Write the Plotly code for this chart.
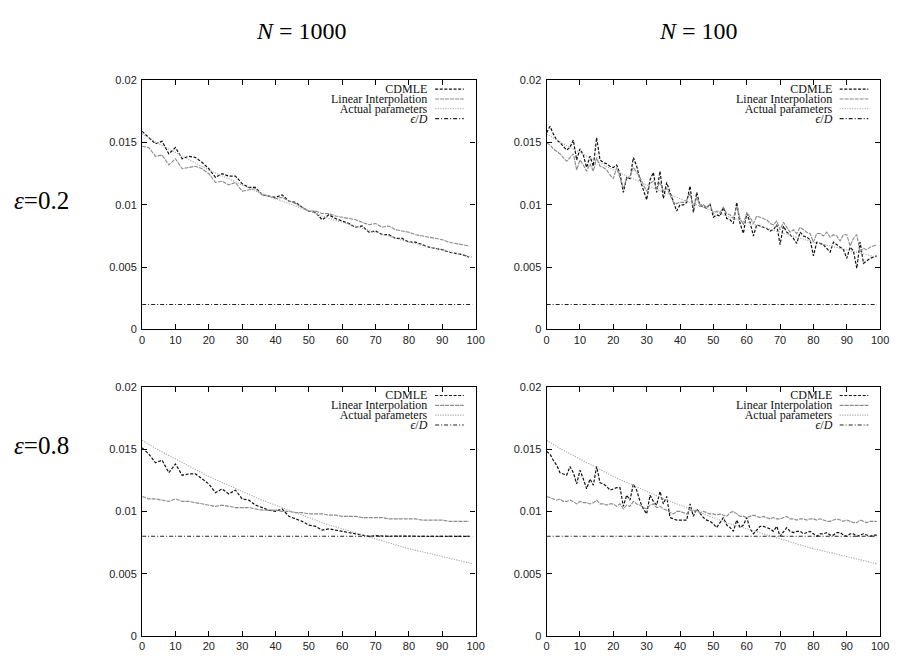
import plotly.graph_objects as go

W, H = 898, 662

# ---------------- data ----------------
x_full = list(range(100))
x_even = list(range(0, 100, 2))
x_actual = [0, 5, 10, 15, 20, 25, 30, 35, 40, 45, 50, 55, 60, 65, 70, 75, 80, 85, 90, 95, 99]

actual_params = [0.0157, 0.0149, 0.0142, 0.0135, 0.0128, 0.0122, 0.0116, 0.0110, 0.0105, 0.0100,
                 0.0095, 0.0090, 0.0086, 0.0082, 0.0078, 0.0074, 0.0070, 0.0067, 0.0064, 0.0061, 0.0058]

eps_D_02 = [0.002] * 100
eps_D_08 = [0.008] * 100

# eps=0.2, N=1000 (even x)
cdmle_02_1000 = [0.0159, 0.0154, 0.0149, 0.0151, 0.0141, 0.0146, 0.0137, 0.0139, 0.0138, 0.0134,
                 0.0129, 0.0122, 0.0125, 0.0123, 0.0123, 0.0117, 0.0114, 0.0114, 0.0108, 0.0107,
                 0.0106, 0.0108, 0.0103, 0.0102, 0.0098, 0.0095, 0.0094, 0.0088, 0.0092, 0.0089,
                 0.0087, 0.0085, 0.0082, 0.0083, 0.0078, 0.0079, 0.0076, 0.0076, 0.0073, 0.0073,
                 0.0070, 0.0070, 0.0068, 0.0066, 0.0065, 0.0064, 0.0062, 0.0061, 0.0060, 0.0058]
linint_02_1000 = [0.0147, 0.0146, 0.0139, 0.0140, 0.0132, 0.0137, 0.0129, 0.0130, 0.0131, 0.0129,
                  0.0125, 0.0118, 0.0119, 0.0116, 0.0118, 0.0111, 0.0112, 0.0113, 0.0108, 0.0107,
                  0.0105, 0.0106, 0.0103, 0.0101, 0.0098, 0.0095, 0.0095, 0.0093, 0.0093, 0.0091,
                  0.0090, 0.0089, 0.0088, 0.0086, 0.0084, 0.0085, 0.0082, 0.0083, 0.0080, 0.0079,
                  0.0078, 0.0076, 0.0075, 0.0074, 0.0073, 0.0072, 0.0070, 0.0069, 0.0068, 0.0067]

# eps=0.2, N=100 (every x)
cdmle_02_100 = [0.0158, 0.0163, 0.0157, 0.0152, 0.0150, 0.0147, 0.0144, 0.0146, 0.0152, 0.0136,
                0.0145, 0.0140, 0.0130, 0.0139, 0.0131, 0.0154, 0.0136, 0.0134, 0.0133, 0.0131,
                0.0130, 0.0132, 0.0125, 0.0110, 0.0122, 0.0121, 0.0138, 0.0131, 0.0120, 0.0112,
                0.0104, 0.0120, 0.0126, 0.0110, 0.0127, 0.0105, 0.0118, 0.0110, 0.0103, 0.0095,
                0.0100, 0.0100, 0.0102, 0.0115, 0.0094, 0.0110, 0.0099, 0.0099, 0.0097, 0.0101,
                0.0090, 0.0092, 0.0091, 0.0098, 0.0089, 0.0088, 0.0085, 0.0102, 0.0085, 0.0077,
                0.0093, 0.0086, 0.0075, 0.0084, 0.0083, 0.0082, 0.0081, 0.0079, 0.0080, 0.0084,
                0.0068, 0.0083, 0.0078, 0.0076, 0.0073, 0.0069, 0.0078, 0.0075, 0.0074, 0.0072,
                0.0059, 0.0070, 0.0069, 0.0068, 0.0065, 0.0062, 0.0070, 0.0068, 0.0066, 0.0064,
                0.0057, 0.0066, 0.0063, 0.0049, 0.0070, 0.0053, 0.0055, 0.0057, 0.0058, 0.0059]
linint_02_100 = [0.0150, 0.0148, 0.0145, 0.0143, 0.0141, 0.0138, 0.0135, 0.0138, 0.0141, 0.0128,
                 0.0136, 0.0132, 0.0127, 0.0133, 0.0127, 0.0138, 0.0131, 0.0130, 0.0128, 0.0124,
                 0.0121, 0.0130, 0.0122, 0.0113, 0.0121, 0.0123, 0.0130, 0.0126, 0.0122, 0.0116,
                 0.0111, 0.0117, 0.0119, 0.0113, 0.0118, 0.0111, 0.0113, 0.0108, 0.0102, 0.0101,
                 0.0102, 0.0102, 0.0104, 0.0109, 0.0098, 0.0106, 0.0100, 0.0100, 0.0098, 0.0100,
                 0.0093, 0.0095, 0.0094, 0.0098, 0.0093, 0.0092, 0.0089, 0.0099, 0.0089, 0.0084,
                 0.0094, 0.0090, 0.0085, 0.0091, 0.0090, 0.0089, 0.0088, 0.0085, 0.0084, 0.0087,
                 0.0080, 0.0086, 0.0082, 0.0078, 0.0080, 0.0077, 0.0082, 0.0080, 0.0078, 0.0077,
                 0.0070, 0.0077, 0.0077, 0.0075, 0.0078, 0.0074, 0.0076, 0.0075, 0.0071, 0.0076,
                 0.0076, 0.0067, 0.0073, 0.0076, 0.0062, 0.0065, 0.0064, 0.0066, 0.0067, 0.0068]

# eps=0.8, N=1000 (even x)
cdmle_08_1000 = [0.0151, 0.0146, 0.0139, 0.0141, 0.0131, 0.0138, 0.0129, 0.0130, 0.0130, 0.0126,
                 0.0122, 0.0115, 0.0118, 0.0114, 0.0117, 0.0110, 0.0109, 0.0105, 0.0103, 0.0101,
                 0.0100, 0.0102, 0.0096, 0.0094, 0.0092, 0.0089, 0.0088, 0.0085, 0.0086, 0.0085,
                 0.0084, 0.0083, 0.0082, 0.0081, 0.0080, 0.00805, 0.0080, 0.0080, 0.00802, 0.0080,
                 0.0080, 0.00801, 0.0080, 0.0080, 0.00801, 0.0080, 0.0080, 0.0080, 0.0080, 0.0080]
linint_08_1000 = [0.0112, 0.0110, 0.0110, 0.0109, 0.0108, 0.0110, 0.0108, 0.0108, 0.0107, 0.0106,
                  0.0105, 0.0104, 0.0105, 0.0104, 0.0103, 0.0103, 0.0103, 0.0102, 0.0101, 0.0101,
                  0.0101, 0.0100, 0.0100, 0.0099, 0.0099, 0.0098, 0.0098, 0.0098, 0.0097, 0.0097,
                  0.0096, 0.0096, 0.0096, 0.0095, 0.0095, 0.0095, 0.0095, 0.0094, 0.0094, 0.0094,
                  0.0094, 0.0094, 0.0093, 0.0093, 0.0093, 0.0093, 0.0092, 0.0092, 0.0092, 0.0092]

# eps=0.8, N=100 (every x)
cdmle_08_100 = [0.0148, 0.0146, 0.0141, 0.0137, 0.0131, 0.0130, 0.0129, 0.0136, 0.0131, 0.0122,
                0.0133, 0.0126, 0.0118, 0.0126, 0.0121, 0.0136, 0.0123, 0.0122, 0.0120, 0.0117,
                0.0118, 0.0119, 0.0119, 0.0104, 0.0113, 0.0109, 0.0122, 0.0117, 0.0108, 0.0102,
                0.0098, 0.0113, 0.0108, 0.0105, 0.0116, 0.0106, 0.0112, 0.0095, 0.0094, 0.0093,
                0.0093, 0.0093, 0.0093, 0.0106, 0.0096, 0.0102, 0.0098, 0.0095, 0.0093, 0.0092,
                0.0090, 0.0087, 0.0091, 0.0095, 0.0089, 0.0087, 0.0084, 0.0093, 0.0087, 0.0089,
                0.0095, 0.0086, 0.0082, 0.0085, 0.0088, 0.0088, 0.0087, 0.0086, 0.0084, 0.0088,
                0.0080, 0.0084, 0.0087, 0.0084, 0.0083, 0.0084, 0.0084, 0.0082, 0.0083, 0.0084,
                0.0082, 0.0080, 0.0082, 0.0082, 0.0083, 0.0081, 0.0081, 0.0083, 0.0083, 0.0081,
                0.0080, 0.0082, 0.0082, 0.0080, 0.0081, 0.0082, 0.0081, 0.0080, 0.0081, 0.0081]
linint_08_100 = [0.0112, 0.0111, 0.0110, 0.0109, 0.0110, 0.0108, 0.0108, 0.0109, 0.0108, 0.0106,
                 0.0108, 0.0107, 0.0107, 0.0106, 0.0107, 0.0109, 0.0106, 0.0106, 0.0105, 0.0106,
                 0.0106, 0.0104, 0.0106, 0.0102, 0.0105, 0.0104, 0.0108, 0.0106, 0.0105, 0.0103,
                 0.0102, 0.0105, 0.0106, 0.0103, 0.0104, 0.0102, 0.0101, 0.0099, 0.0098, 0.0100,
                 0.0100, 0.0099, 0.0098, 0.0101, 0.0100, 0.0101, 0.0099, 0.0100, 0.0099, 0.0098,
                 0.0098, 0.0097, 0.0098, 0.0097, 0.0096, 0.0099, 0.0100, 0.0098, 0.0096, 0.0096,
                 0.0095, 0.0096, 0.0097, 0.0096, 0.0095, 0.0096, 0.0095, 0.0094, 0.0095, 0.0094,
                 0.0094, 0.0095, 0.0096, 0.0094, 0.0094, 0.0093, 0.0094, 0.0094, 0.0093, 0.0094,
                 0.0094, 0.0093, 0.0094, 0.0093, 0.0092, 0.0092, 0.0093, 0.0094, 0.0093, 0.0092,
                 0.0093, 0.0092, 0.0091, 0.0091, 0.0093, 0.0092, 0.0091, 0.0092, 0.0092, 0.0092]

col_titles = ["<i>N</i> = 1000", "<i>N</i> = 100"]
row_titles = ["<i>\u03b5</i>=0.2", "<i>\u03b5</i>=0.8"]
legend_names = ["CDMLE", "Linear Interpolation", "Actual parameters", "<i>\u03f5</i>/<i>D</i>"]
x_tick_vals = [0, 10, 20, 30, 40, 50, 60, 70, 80, 90, 100]
y_tick_vals = [0, 0.005, 0.01, 0.015, 0.02]

# ---------------- styles ----------------
styles = [
    dict(color="#111111", width=1.2, dash="3px,1.6px"),
    dict(color="#8a8a8a", width=1.1, dash="4px,1px"),
    dict(color="#a8a8a8", width=1.1, dash="1.2px,1.3px"),
    dict(color="#222222", width=1.1, dash="4px,2px,1px,2px"),
]

# panel geometry in pixels
panels = [
    (141, 479, 75.7, 329.3, cdmle_02_1000, x_even, linint_02_1000, x_even, eps_D_02),
    (551, 889, 75.7, 329.3, cdmle_02_100, x_full, linint_02_100, x_full, eps_D_02),
    (141, 479, 387.7, 641.7, cdmle_08_1000, x_even, linint_08_1000, x_even, eps_D_08),
    (551, 889, 387.7, 641.7, cdmle_08_100, x_full, linint_08_100, x_full, eps_D_08),
]

fig = go.Figure()
layout = dict(
    width=W, height=H,
    margin=dict(l=0, r=0, t=0, b=0),
    paper_bgcolor="white", plot_bgcolor="white",
    showlegend=False,
    annotations=[], shapes=[],
)

tick_font = dict(family="Liberation Sans, Arial, sans-serif", size=11, color="#222222")
serif = "Liberation Serif, Times New Roman, serif"

# line pitch of the legend block: base font size * 1.3 = 10 px
LEG_PITCH = 10.0
legend_text = "<br>".join(f"<span style='font-size:12px'>{nm}</span>" for nm in legend_names)

for i, (L, R, T, B, cd, xc, li, xl, ep) in enumerate(panels):
    n = i + 1
    xa = "x" if n == 1 else f"x{n}"
    ya = "y" if n == 1 else f"y{n}"
    series = [(xc, cd), (xl, li), (x_actual, actual_params), (x_full, ep)]
    for k, (xs, ys) in enumerate(series):
        fig.add_trace(go.Scatter(x=xs, y=ys, mode="lines", line=styles[k],
                                 xaxis=xa, yaxis=ya, hoverinfo="skip"))
    axis_common = dict(showline=True, linecolor="#000000", linewidth=1.3, mirror="allticks",
                       ticks="inside", ticklen=5, tickcolor="#000000", tickwidth=1,
                       showgrid=False, zeroline=False, tickfont=tick_font)
    layout["xaxis" if n == 1 else f"xaxis{n}"] = dict(
        domain=[L / W, R / W], range=[0, 100], tickvals=x_tick_vals,
        anchor=ya, **axis_common)
    layout["yaxis" if n == 1 else f"yaxis{n}"] = dict(
        domain=[1 - B / H, 1 - T / H], range=[0, 0.02], tickvals=y_tick_vals,
        anchor=xa, ticklabelstandoff=2, **axis_common)

    # manual legend: one right-aligned text block, keys on the right
    layout["annotations"].append(dict(
        text=legend_text, x=(R - 46) / W, y=1 - (T + 24) / H, xref="paper", yref="paper",
        xanchor="right", yanchor="middle", align="right", showarrow=False,
        font=dict(family=serif, size=LEG_PITCH / 1.3, color="#111111")))
    offsets = [9, 19, 29, 39]
    for k in range(len(legend_names)):
        yy = 1 - (T + offsets[k]) / H
        layout["shapes"].append(dict(
            type="line", xref="paper", yref="paper",
            x0=(R - 41) / W, x1=(R - 12) / W, y0=yy, y1=yy, line=styles[k]))

for j, t in enumerate(col_titles):
    layout["annotations"].append(dict(
        text=t, x=[303, 705][j] / W, y=1 - 25 / H, xref="paper", yref="paper",
        xanchor="center", yanchor="middle", showarrow=False,
        font=dict(family=serif, size=24, color="#000000")))
for j, t in enumerate(row_titles):
    layout["annotations"].append(dict(
        text=t, x=9 / W, y=1 - [198, 448][j] / H, xref="paper", yref="paper",
        xanchor="left", yanchor="middle", showarrow=False,
        font=dict(family=serif, size=25, color="#000000")))

fig.update_layout(**layout)
fig.write_html("out.html")
